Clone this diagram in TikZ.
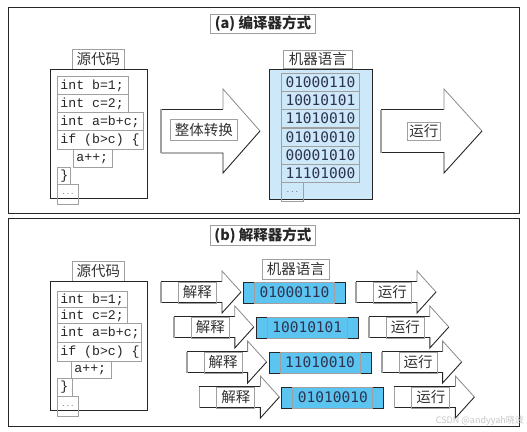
\documentclass[tikz,border=0pt]{standalone}
\usepackage{fontspec}
\newfontfamily\cjk{Noto Sans CJK SC}
\newfontfamily\codefnt{Liberation Mono}
\newfontfamily\binfnt{DejaVu Sans Mono}
\definecolor{boxgray}{HTML}{A0A0A0}
\definecolor{edgegray}{HTML}{8A8A8A}
\definecolor{dark}{HTML}{262626}
\definecolor{lightblue}{HTML}{CCE8F9}
\definecolor{skyblue}{HTML}{5CC4F0}
\definecolor{txt}{HTML}{333333}
\definecolor{bintxt}{HTML}{2E3350}
\tikzset{
  panel/.style={draw=dark, line width=1pt, anchor=north west, inner sep=0pt},
  gbox/.style={draw=boxgray, line width=0.9pt, anchor=north west, inner sep=0pt, text=txt},
  codebox/.style={gbox, inner xsep=3pt, inner ysep=0pt, font=\codefnt\fontsize{13.2}{13.2}\selectfont, text=dark},
  cjklab/.style={font=\cjk\fontsize{14.5}{14.5}\selectfont},
  binlab/.style={font=\binfnt\fontsize{14.5}{14.5}\selectfont, text=bintxt},
  outbox/.style={draw=dark, line width=1pt, anchor=north west, inner sep=0pt},
  dotsbox/.style={gbox, font=\fontsize{10}{10}\selectfont, text=black!60}
}
\newcommand\codeline[6]{\node[codebox, minimum height=#5pt] (#1) at (#2,#3) {\makebox[\dimexpr#4pt-6pt\relax][l]{#6}};}
\newcommand\fatarrow[6]{%
  \fill[white] (#1,#4-#5) -- (#2,#4-#5) -- (#2,#4-#6) -- (#3,#4) -- (#2,#4+#6) -- (#2,#4+#5) -- (#1,#4+#5) -- cycle;
  \draw[dark, line width=0.8pt] (#1,#4-#5) -- (#2,#4-#5);
  \draw[edgegray, line width=0.8pt, line join=miter] (#2,#4-#5) -- (#2,#4-#6) -- (#3,#4);
  \draw[dark, line width=0.9pt, line join=miter] (#3,#4) -- (#2,#4+#6) -- (#2,#4+#5) -- (#1,#4+#5);
  \draw[boxgray, line width=1.8pt] (#1,#4-#5) -- (#1,#4+#5);
}
\begin{document}
\begin{tikzpicture}[x=1pt,y=-1pt]
\useasboundingbox (0,0) rectangle (527,431);
\fill[white] (0,0) rectangle (527,431);

% ---------------- (a) ----------------
\node[panel, minimum width=511pt, minimum height=206pt] (panelA) at (8,7) {};
\node[gbox, cjklab, font=\cjk\bfseries\fontsize{14.5}{14.5}\selectfont, text=dark, minimum width=105pt, minimum height=19pt] (titleA) at (210,14) {(a) 编译器方式};

\node[gbox, cjklab, minimum width=52pt, minimum height=20pt] (srclabA) at (72,49) {源代码};
\node[outbox, minimum width=97pt, minimum height=129pt] (srcA) at (50,69) {};
\codeline{a1}{57}{76}{71}{18}{int b=1;}
\codeline{a2}{57}{94}{71}{18}{int c=2;}
\codeline{a3}{57}{112}{86}{18}{int a=b+c;}
\codeline{a4}{57}{130}{86}{19}{if (b>c) \{}
\codeline{a5}{73}{149}{39}{18}{a++;}
\codeline{a6}{57}{167}{13}{17}{\}}
\node[dotsbox, minimum width=21pt, minimum height=20pt] (a7) at (57,184) {$\cdots$};

\fatarrow{161}{223}{260}{131}{22}{42}
\node[gbox, cjklab, minimum width=67pt, minimum height=21pt] (convA) at (170,119) {整体转换};

\node[gbox, cjklab, minimum width=69pt, minimum height=18pt] (mlabA) at (283,50) {机器语言};
\node[outbox, fill=lightblue, minimum width=103pt, minimum height=130pt] (machA) at (269,69) {};
\foreach \i/\y/\bits in {1/73/01000110,2/91/10010101,3/109/11010010,4/127.5/01010010,5/146/00001010,6/164/11101000}{
  \node[gbox, binlab, minimum width=78pt, minimum height=18pt] (m\i) at (281,\y) {\bits};
}
\node[dotsbox, minimum width=22pt, minimum height=19pt] (m7) at (281,182) {$\cdots$};

\fatarrow{381}{444}{482}{131}{21.5}{42}
\node[gbox, cjklab, minimum width=33pt, minimum height=18pt] (runA) at (407,122) {运行};

% ---------------- (b) ----------------
\node[panel, minimum width=511pt, minimum height=208pt] (panelB) at (8,218) {};
\node[gbox, cjklab, font=\cjk\bfseries\fontsize{14.5}{14.5}\selectfont, text=dark, minimum width=105pt, minimum height=20pt] (titleB) at (210,225) {(b) 解释器方式};

\node[gbox, cjklab, minimum width=52pt, minimum height=20pt] (srclabB) at (72,261) {源代码};
\node[outbox, minimum width=97pt, minimum height=129pt] (srcB) at (50,281) {};
\codeline{b1}{57}{291}{70}{16}{int b=1;}
\codeline{b2}{57}{307}{70}{16}{int c=2;}
\codeline{b3}{57}{323}{84}{19}{int a=b+c;}
\codeline{b4}{57}{342}{84}{19}{if (b>c) \{}
\codeline{b5}{71}{361}{40}{17}{a++;}
\codeline{b6}{57}{378}{15}{18}{\}}
\node[dotsbox, minimum width=21pt, minimum height=20pt] (b7) at (57,396) {$\cdots$};

\node[gbox, cjklab, minimum width=67pt, minimum height=20pt] (mlabB) at (262,259) {机器语言};

\foreach \i/\bits in {0/01000110,1/10010101,2/11010010,3/01010010}{
  \pgfmathsetmacro\dx{12.8*\i}
  \pgfmathsetmacro\yc{292+35*\i}
  \pgfmathsetmacro\yt{\yc-10.5}
  \fatarrow{161+\dx}{222+\dx}{241+\dx}{\yc}{10.5}{21}
  \node[gbox, cjklab, minimum width=38pt, minimum height=21pt] (interp\i) at (178+\dx,\yt) {解释};
  \node[outbox, fill=skyblue, minimum width=102pt, minimum height=21pt] (row\i) at (243+\dx,\yt) {};
  \node[gbox, binlab, minimum width=80pt, minimum height=21pt] (bits\i) at (254+\dx,\yt) {\bits};
  \fatarrow{356+\dx}{417+\dx}{436+\dx}{\yc}{10.5}{21}
  \node[gbox, cjklab, minimum width=38pt, minimum height=21pt] (run\i) at (373+\dx,\yt) {运行};
}

\node[anchor=east, inner sep=0pt, text=black!22, font=\cjk\fontsize{9}{9}\selectfont] (wm) at (524,421) {CSDN @andyyah晓波};
\end{tikzpicture}
\end{document}
